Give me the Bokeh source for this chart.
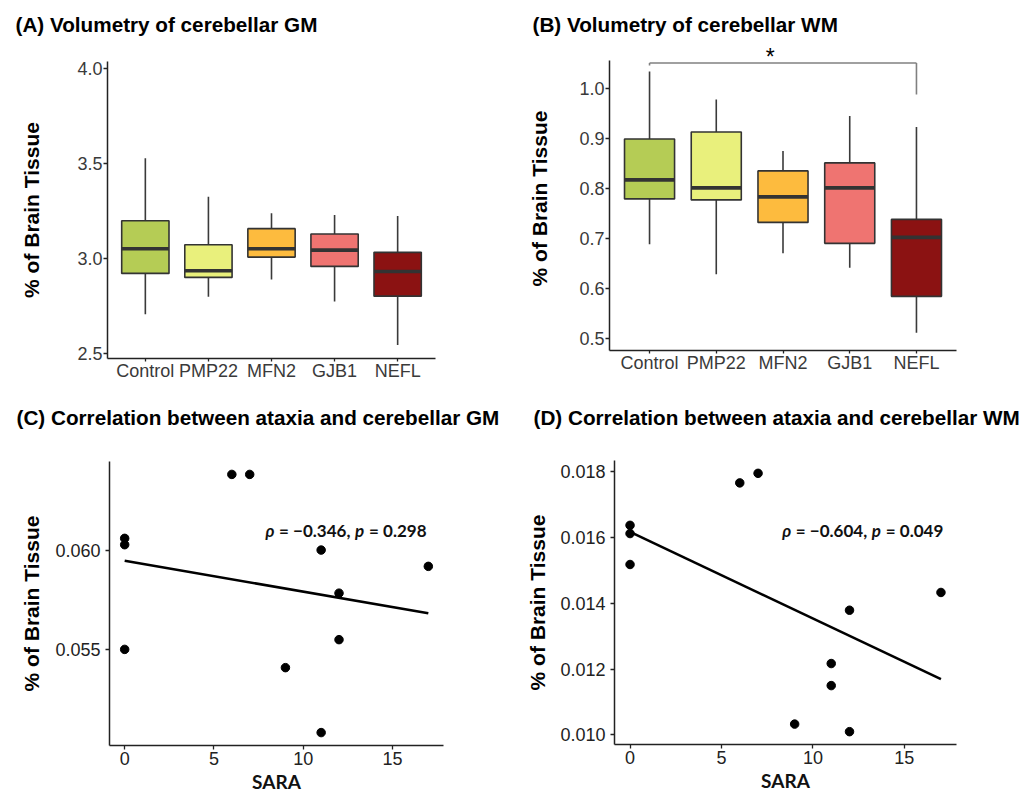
import numpy as np
from bokeh.plotting import figure
from bokeh.layouts import column, row
from bokeh.models import Range1d, FixedTicker, Label
from bokeh.embed import file_html
from bokeh.resources import INLINE

# ---------------- data ----------------
categories = ["Control", "PMP22", "MFN2", "GJB1", "NEFL"]
box_colors = ["#b5cc55", "#e9f07c", "#fdbb3e", "#ef7471", "#8b1212"]

gm_upper = [3.528, 3.326, 3.238, 3.229, 3.224]
gm_q3 = [3.199, 3.072, 3.157, 3.129, 3.032]
gm_median = [3.051, 2.935, 3.051, 3.044, 2.931]
gm_q1 = [2.921, 2.900, 3.007, 2.958, 2.801]
gm_lower = [2.706, 2.798, 2.889, 2.773, 2.543]
gm_ticks = [2.5, 3.0, 3.5, 4.0]
gm_tick_labels = ["2.5", "3.0", "3.5", "4.0"]

wm_upper = [1.035, 0.979, 0.876, 0.946, 0.924]
wm_q3 = [0.900, 0.914, 0.836, 0.852, 0.739]
wm_median = [0.818, 0.802, 0.784, 0.802, 0.703]
wm_q1 = [0.780, 0.778, 0.733, 0.691, 0.585]
wm_lower = [0.689, 0.629, 0.671, 0.642, 0.512]
wm_ticks = [0.5, 0.6, 0.7, 0.8, 0.9, 1.0]
wm_tick_labels = ["0.5", "0.6", "0.7", "0.8", "0.9", "1.0"]
sig_label = "*"
sig_pair = [1, 5]          # Control vs NEFL
sig_bar_y = 1.052
sig_drop_left = 1.047
sig_drop_right = 0.989
sig_label_x = 2.81
sig_label_y = 1.064

sara_gm = [0, 0, 0, 6, 7, 9, 11, 11, 12, 12, 17]
gm_corr = [0.06059, 0.06027, 0.05500, 0.06381, 0.06381, 0.05408,
           0.06000, 0.05081, 0.05783, 0.05549, 0.05918]
sara_wm = [0, 0, 0, 6, 7, 9, 11, 11, 12, 12, 17]
wm_corr = [0.01637, 0.01612, 0.01518, 0.01766, 0.01795, 0.01033,
           0.01217, 0.01150, 0.01379, 0.01010, 0.01433]
sara_ticks = [0, 5, 10, 15]
gm_corr_ticks = [0.055, 0.060]
gm_corr_tick_labels = ["0.055", "0.060"]
wm_corr_ticks = [0.010, 0.012, 0.014, 0.016, 0.018]
wm_corr_tick_labels = ["0.010", "0.012", "0.014", "0.016", "0.018"]
gm_stats = ("\u22120.346", "0.298")
wm_stats = ("\u22120.604", "0.049")

titles = ["(A) Volumetry of cerebellar GM",
          "(B) Volumetry of cerebellar WM",
          "(C) Correlation between ataxia and cerebellar GM",
          "(D) Correlation between ataxia and cerebellar WM"]

ARIAL = "Liberation Sans"
LATO = "Lato"
AX = "#222222"
NB = "\u00a0"


def base_fig(w, h, left, right, top, bottom, xr, yr):
    p = figure(width=w, height=h, x_range=xr, y_range=yr,
               output_backend="svg", toolbar_location=None,
               min_border_left=left, min_border_right=right,
               min_border_top=top, min_border_bottom=bottom)
    p.frame_align = False
    p.outline_line_color = None
    p.background_fill_color = "white"
    p.border_fill_color = "white"
    return p


def make_fig(w, h, left, right, top, bottom, xr, yr):
    p = base_fig(w, h, left, right, top, bottom, xr, yr)
    p.grid.visible = False
    for ax in (p.xaxis[0], p.yaxis[0]):
        ax.axis_line_color = AX
        ax.axis_line_width = 1.5
        ax.major_tick_line_color = AX
        ax.major_tick_line_width = 1.3
        ax.major_tick_out = 4
        ax.major_tick_in = 0
        ax.minor_tick_line_color = None
        ax.major_label_text_font = ARIAL
        ax.major_label_text_font_size = "18px"
    p.yaxis.axis_label = "% of Brain Tissue"
    p.yaxis.axis_label_text_font = ARIAL
    p.yaxis.axis_label_text_font_style = "bold"
    p.yaxis.axis_label_text_font_size = "21px"
    p.yaxis.axis_label_text_color = "black"
    return p


def title_strip(h, left_texts):
    p = base_fig(1035, h, 0, 0, 0, 0, Range1d(0, 1035), Range1d(h, 0))
    p.xaxis.visible = False
    p.yaxis.visible = False
    p.grid.visible = False
    for txt, x, y in left_texts:
        p.add_layout(Label(x=x, y=y, text=txt, text_font=ARIAL, text_font_style="bold",
                           text_font_size="20.7px", text_color="black",
                           text_align="left", text_baseline="middle"))
    return p


def box_panel(w, h, left, right, top, bottom, yr, upper, q3, med, q1, lower,
              ticks, tick_labels, label_standoff, bounds=None):
    pos = [i + 1 for i in range(len(categories))]
    p = make_fig(w, h, left, right, top, bottom, Range1d(0.4, 5.6), yr)
    p.segment(x0=pos, y0=q3, x1=pos, y1=upper, line_color="#3a3a3a", line_width=1.6)
    p.segment(x0=pos, y0=q1, x1=pos, y1=lower, line_color="#3a3a3a", line_width=1.6)
    p.vbar(x=pos, width=0.75, top=q3, bottom=q1, fill_color=box_colors,
           line_color="#333333", line_width=1.6)
    p.segment(x0=[x - 0.375 for x in pos], y0=med, x1=[x + 0.375 for x in pos], y1=med,
              line_color="#333333", line_width=3.6)
    p.xaxis.ticker = FixedTicker(ticks=pos)
    p.xaxis.major_label_overrides = {x: c for x, c in zip(pos, categories)}
    p.yaxis.ticker = FixedTicker(ticks=ticks)
    p.yaxis.major_label_overrides = {t: s for t, s in zip(ticks, tick_labels)}
    if bounds is not None:
        p.yaxis.bounds = bounds
    for ax in (p.xaxis[0], p.yaxis[0]):
        ax.major_label_text_color = "#3a3a3a"
    p.xaxis.major_tick_out = 3
    p.xaxis.major_label_standoff = -1
    p.yaxis.major_label_standoff = 1
    p.yaxis.axis_label_standoff = label_standoff
    return p


def scatter_panel(w, h, left, right, top, bottom, yr, xs, ys, ticks, tick_labels,
                  stats, ann_x, ann_y, label_standoff):
    p = make_fig(w, h, left, right, top, bottom, Range1d(-0.85, 17.85), yr)
    slope, intercept = np.polyfit(np.array(xs, float), np.array(ys, float), 1)
    lx = np.array([min(xs), max(xs)], float)
    p.line(lx, intercept + slope * lx, line_color="black", line_width=2.6)
    p.scatter(xs, ys, size=8.5, color="black")
    p.xaxis.ticker = FixedTicker(ticks=sara_ticks)
    p.yaxis.ticker = FixedTicker(ticks=ticks)
    p.yaxis.major_label_overrides = {t: s for t, s in zip(ticks, tick_labels)}
    for ax in (p.xaxis[0], p.yaxis[0]):
        ax.major_label_text_color = "#222222"
    p.xaxis.major_label_standoff = 2
    p.yaxis.major_label_standoff = 5
    p.yaxis.axis_label_standoff = label_standoff
    p.xaxis.axis_label = "SARA"
    p.xaxis.axis_label_text_font = LATO
    p.xaxis.axis_label_text_font_style = "bold"
    p.xaxis.axis_label_text_font_size = "19px"
    p.xaxis.axis_label_text_color = "#111111"
    p.xaxis.axis_label_standoff = 2
    # annotation with italic rho and p
    parts = [("\u03c1", "bold italic", 0),
             (NB + "=" + NB + stats[0] + "," + NB, "bold", 9.5),
             ("p", "bold italic", 89.5),
             (NB + "=" + NB + stats[1], "bold", 99.5)]
    for txt, style, off in parts:
        p.add_layout(Label(x=ann_x, y=ann_y, x_offset=off, text=txt, text_font=LATO,
                           text_font_style=style, text_font_size="17px",
                           text_color="#111111", text_align="left",
                           text_baseline="middle"))
    return p


# ---------------- panels ----------------
strip1 = title_strip(40, [(titles[0], 15, 24), (titles[1], 532, 24)])

pA = box_panel(515, 355, 107, 80, 21, 37, Range1d(2.472, 4.039),
               gm_upper, gm_q3, gm_median, gm_q1, gm_lower, gm_ticks, gm_tick_labels, 31)

pB = box_panel(520, 355, 94, 79, 6, 45, Range1d(0.4766, 1.085),
               wm_upper, wm_q3, wm_median, wm_q1, wm_lower, wm_ticks, wm_tick_labels, 25,
               bounds=(0.4766, 1.056))
pB.segment(x0=[sig_pair[0], sig_pair[0], sig_pair[1]], y0=[sig_bar_y] * 3,
           x1=[sig_pair[1], sig_pair[0], sig_pair[1]],
           y1=[sig_bar_y, sig_drop_left, sig_drop_right],
           line_color="#808080", line_width=1.6)
pB.add_layout(Label(x=sig_label_x, y=sig_label_y, text=sig_label, text_font=ARIAL,
                    text_font_size="23px", text_color="black", text_align="center",
                    text_baseline="middle"))

strip2 = title_strip(40, [(titles[2], 16, 22), (titles[3], 533, 22)])

pC = scatter_panel(515, 361, 109, 72, 26, 51, Range1d(0.05016, 0.06446),
                   sara_gm, gm_corr, gm_corr_ticks, gm_corr_tick_labels, gm_stats,
                   7.88, 0.06099, 9)

pD = scatter_panel(520, 361, 99, 79, 25, 52, Range1d(0.00971, 0.01834),
                   sara_wm, wm_corr, wm_corr_ticks, wm_corr_tick_labels, wm_stats,
                   8.32, 0.0162, 8)

layout = column(strip1, row(pA, pB), strip2, row(pC, pD))
open("out.html", "w").write(file_html(layout, INLINE, title="Cerebellar volumetry"))
